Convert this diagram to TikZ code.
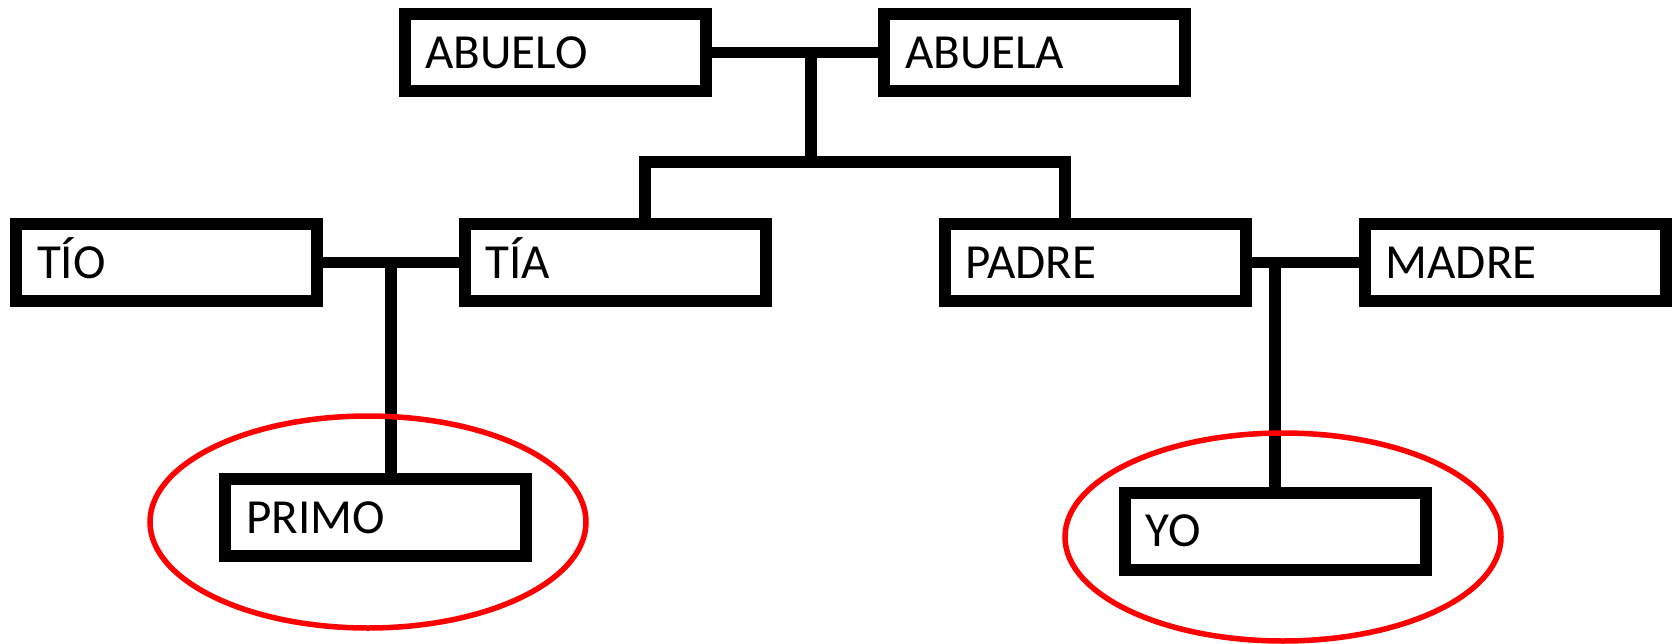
\documentclass[tikz,border=0pt]{standalone}
\usepackage{fontspec}
\setmainfont{Carlito}
\usepackage{tikz}
\usetikzlibrary{positioning,calc}

\begin{document}
\begin{tikzpicture}[x=1pt, y=-1pt,
            persona/.style={draw, rectangle, line width=12pt, minimum width=301pt, minimum height=77pt,
            text width=259pt, inner xsep=21pt, inner ysep=0pt, align=left,
            text height=31pt, text depth=0pt, font=\fontsize{49}{57}\selectfont},
            linea/.style={line width=11.5pt},
            marca/.style={draw=red, line width=5.5pt}]

            \useasboundingbox (0,0) rectangle (1674,643);

            % abuelos
            \node[persona] (abuelo) at (555,52.5) {ABUELO};
            \node[persona] (abuela) at (1034.5,52.5) {ABUELA};

            % hijos y parejas
            \node[persona] (tio) at (166.5,262.5) {TÍO};
            \node[persona] (tia) at (615,262.5) {TÍA};
            \node[persona] (padre) at (1095,262.5) {PADRE};
            \node[persona] (madre) at (1515.2,262.5) {MADRE};

            % nietos
            \node[persona] (primo) at (375.8,517.7) {PRIMO};
            \node[persona] (yo) at (1275.2,531.3) {YO};

            \coordinate (uA) at (811,52.5);
            \coordinate (hijos) at (811,162);
            \coordinate (uT) at ($(tio.east)!0.5!(tia.west)$);

            \draw[linea] (abuelo.east) -- (abuela.west);
            \draw[linea] (uA) -- (hijos);
            \draw[linea] ([xshift=30pt]tia.north) |- (hijos) -| ([xshift=-30pt]padre.north);
            \draw[linea] (tio.east) -- (tia.west);
            \draw[linea] (uT) -- (uT |- primo.north);
            \draw[linea] (padre.east) -- (madre.west);
            \draw[linea] (yo.north |- padre.east) -- (yo.north);

            \draw[marca] (368,522) ellipse [x radius=218pt, y radius=106pt];
            \draw[marca] (1283,537) ellipse [x radius=218pt, y radius=104pt];
\end{tikzpicture}
\end{document}
